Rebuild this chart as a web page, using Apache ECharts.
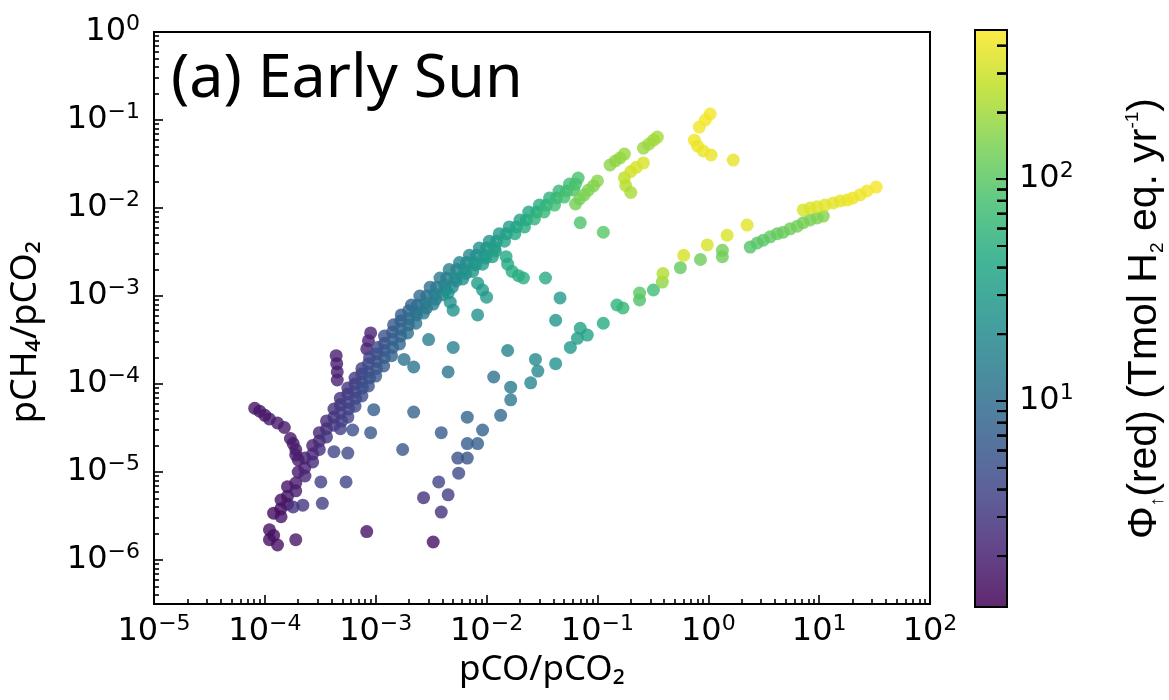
<!DOCTYPE html>
<html><head><meta charset="utf-8">
<script src="https://cdn.jsdelivr.net/npm/echarts@6/dist/echarts.min.js"></script>
<style>html,body{margin:0;padding:0;background:#fff}#c{width:1169px;height:700px}</style>
</head><body><div id="c"></div>
<script>
// ---------- tick labels (exponents of 10) ----------
const xTickExps = [-5, -4, -3, -2, -1, 0, 1, 2];
const yTickExps = [-6, -5, -4, -3, -2, -1, 0];
const cbTickExps = [1, 2];
const X_MIN = 1e-5, X_MAX = 1e2, Y_MIN = 3.16e-7, Y_MAX = 1;
const PHI_MIN = 1.18, PHI_MAX = 470;

// ---------- data: pCO/pCO2, pCH4/pCO2, Phi(red) ----------
// main ridge, upper-left edge
const ridgeLCO = [1.2e-4,1.4e-4,1.6e-4,2.0e-4,2.3e-4,2.7e-4,3.1e-4,3.6e-4,4.2e-4,4.8e-4,5.6e-4,6.5e-4,7.5e-4,8.8e-4,1.04e-3,1.2e-3,1.45e-3,1.7e-3,2.1e-3,2.5e-3,3.1e-3,3.8e-3,4.6e-3,5.7e-3,7.0e-3,8.6e-3,1.06e-2,1.3e-2,1.6e-2,2.0e-2,2.4e-2,3.0e-2,3.7e-2,4.5e-2,5.6e-2,6.7e-2];
const ridgeLCH4 = [3.4e-6,4.8e-6,6.8e-6,1.0e-5,1.44e-5,2.0e-5,2.8e-5,3.8e-5,5.2e-5,6.9e-5,9.0e-5,1.17e-4,1.5e-4,2.0e-4,2.6e-4,3.5e-4,4.7e-4,6.1e-4,7.9e-4,1.0e-3,1.26e-3,1.6e-3,2.0e-3,2.4e-3,2.9e-3,3.5e-3,4.2e-3,5.1e-3,6.1e-3,7.3e-3,9.0e-3,1.08e-2,1.3e-2,1.56e-2,1.87e-2,2.19e-2];
const ridgeLPhi = [1.4,1.5,1.6,1.8,1.9,2.0,2.2,2.4,2.6,2.8,3.0,3.3,3.6,4.0,4.5,5.2,6,7,8,9.5,11,13,15,17,19,22,25,28,32,36,41,47,54,62,70,80];
// main ridge, between edge and centre
const ridgeM1CO = [1.39e-4,1.6e-4,1.9e-4,2.29e-4,2.7e-4,3.1e-4,3.6e-4,4.2e-4,4.8e-4,5.6e-4,6.5e-4,7.5e-4,8.6e-4,1.02e-3,1.2e-3,1.42e-3,1.68e-3,1.98e-3,2.39e-3,2.88e-3,3.55e-3,4.36e-3,5.37e-3,6.6e-3,8.1e-3,1.0e-2,1.23e-2,1.51e-2,1.86e-2,2.29e-2,2.82e-2,3.47e-2,4.27e-2,5.26e-2,6.34e-2];
const ridgeM1CH4 = [3.8e-6,5.3e-6,7.5e-6,1.11e-5,1.6e-5,2.25e-5,3.1e-5,4.2e-5,5.8e-5,7.7e-5,1.0e-4,1.3e-4,1.7e-4,2.19e-4,2.9e-4,3.9e-4,5.2e-4,6.8e-4,7.9e-4,1.0e-3,1.26e-3,1.6e-3,2.0e-3,2.4e-3,2.9e-3,3.5e-3,4.2e-3,5.1e-3,6.1e-3,7.3e-3,9.0e-3,1.08e-2,1.3e-2,1.56e-2,1.87e-2];
const ridgeM1Phi = [1.5,1.6,1.75,2.0,2.15,2.3,2.55,2.75,3.0,3.25,3.5,3.85,4.25,4.7,5.2,6.1,7,8.3,9.5,11,13,15,17.5,20,22.5,25.5,29,32.5,37,42,48,54,62,70,77];
// main ridge, centre
const ridgeCCO = [1.4e-4,1.6e-4,1.9e-4,2.3e-4,2.7e-4,3.1e-4,3.6e-4,4.2e-4,4.8e-4,5.6e-4,6.5e-4,7.5e-4,8.6e-4,1.02e-3,1.2e-3,1.42e-3,1.68e-3,1.98e-3,2.3e-3,2.8e-3,3.4e-3,4.2e-3,5.2e-3,6.3e-3,7.8e-3,9.6e-3,1.18e-2,1.45e-2,1.8e-2,2.2e-2,2.7e-2,3.3e-2,4.1e-2,5.0e-2,6.1e-2];
const ridgeCCH4 = [3.1e-6,4.3e-6,6.1e-6,9.0e-6,1.3e-5,1.8e-5,2.5e-5,3.4e-5,4.7e-5,6.2e-5,8.1e-5,1.05e-4,1.37e-4,1.8e-4,2.4e-4,3.2e-4,4.2e-4,5.5e-4,6.6e-4,8.3e-4,1.05e-3,1.33e-3,1.6e-3,2.0e-3,2.4e-3,2.9e-3,3.5e-3,4.2e-3,5.1e-3,6.1e-3,7.5e-3,9.0e-3,1.08e-2,1.33e-2,1.6e-2];
const ridgeCPhi = [1.6,1.7,1.9,2.2,2.4,2.6,2.9,3.1,3.4,3.7,4.0,4.4,4.9,5.4,6,7,8,9.5,11,13,15,17,20,23,26,29,33,37,42,48,55,62,70,78,85];
// main ridge, between centre and lower-right edge
const ridgeM2CO = [4.94e-4,5.7e-4,6.6e-4,7.6e-4,8.8e-4,1.02e-3,1.2e-3,1.42e-3,1.68e-3,1.98e-3,2.34e-3,2.88e-3,3.47e-3,4.27e-3,5.3e-3,6.5e-3,7.96e-3,9.8e-3,1.2e-2];
const ridgeM2CH4 = [3.8e-5,5.2e-5,6.9e-5,9.0e-5,1.17e-4,1.5e-4,2.0e-4,2.6e-4,3.5e-4,4.7e-4,6.1e-4,7.3e-4,9.2e-4,1.17e-3,1.48e-3,1.8e-3,2.25e-3,2.7e-3,3.25e-3];
const ridgeM2Phi = [3.4,3.7,4.0,4.4,4.9,5.4,6,7,8,9,10.5,12,14,16,18.5,21.5,25,28,31];
// main ridge, lower-right edge
const ridgeRCO = [4.8e-4,5.6e-4,6.5e-4,7.5e-4,8.6e-4,1.0e-3,1.18e-3,1.39e-3,1.64e-3,1.94e-3,2.3e-3,2.7e-3,3.3e-3,4.0e-3,4.9e-3,6.1e-3,7.5e-3,9.2e-3,1.13e-2];
const ridgeRCH4 = [3.1e-5,4.2e-5,5.6e-5,7.3e-5,9.5e-5,1.23e-4,1.6e-4,2.1e-4,2.85e-4,3.8e-4,4.9e-4,6.4e-4,8.1e-4,1.03e-3,1.26e-3,1.56e-3,1.9e-3,2.3e-3,2.8e-3];
const ridgeRPhi = [3.6,3.9,4.2,4.6,5.2,5.8,6.5,7.5,8.5,10,11.5,13,15,17,20,23,27,30,34];
// purple streaks left of the ridge
const purpleCO = [8.1e-5,9.0e-5,1.0e-4,1.1e-4,1.3e-4,1.5e-4, 1.7e-4,1.8e-4,1.9e-4,1.9e-4,2.0e-4, 4.4e-4,4.45e-4,4.5e-4,4.5e-4, 9.0e-4,8.6e-4,8.3e-4, 1.1e-4,1.2e-4,1.1e-4,1.3e-4,1.9e-4];
const purpleCH4 = [5.3e-5,4.9e-5,4.4e-5,4.0e-5,3.6e-5,3.2e-5, 2.4e-5,2.1e-5,1.8e-5,1.56e-5,1.37e-5, 2.1e-4,1.7e-4,1.37e-4,1.11e-4, 3.8e-4,3.1e-4,2.5e-4, 2.2e-6,1.9e-6,1.7e-6,1.48e-6,1.7e-6];
const purplePhi = [1.6,1.6,1.7,1.7,1.8,1.8, 1.7,1.7,1.8,1.8,1.9, 1.9,1.9,1.9,2.0, 2.1,2.1,2.1, 1.5,1.5,1.5,1.5,1.7];
// short teal/green streaks hanging below the ridge
const hookCO = [4.5e-3,4.7e-3,5.0e-3, 8.3e-3,9.2e-3,1.0e-2, 1.5e-2,1.55e-2,1.7e-2,1.94e-2,2.15e-2];
const hookCH4 = [1.08e-3,8.5e-4,6.9e-4, 1.4e-3,1.17e-3,9.7e-4, 2.8e-3,2.3e-3,1.9e-3,1.7e-3,1.6e-3];
const hookPhi = [24,24,24, 30,30,30, 42,44,46,48,50];
// scattered points and lower branch
const dotCO = [2.2e-3,5.0e-3,8.3e-3,3.0e-3,1.8e-3,2.2e-3,4.5e-3,9.6e-4,9.0e-4,1.75e-3,5.6e-4,4.2e-4,6.2e-4,5.4e-4,3.2e-4,3.3e-4,2.2e-4,1.8e-4,3.9e-3,9.2e-3,6.7e-3,6.7e-3,8.3e-3,5.5e-3,6.7e-3,5.6e-3,3.7e-3,4.5e-3,3.9e-3,2.7e-3,3.3e-3,8.3e-4,1.34e-2,1.16e-2,1.65e-2,1.65e-2,1.55e-2,2.5e-2,2.76e-2,2.9e-2,4.2e-2,5.7e-2,6.6e-2,7.0e-2,8.1e-2,1.13e-1,1.5e-1,1.7e-1,2.4e-1,2.4e-1,3.2e-1,3.9e-1,3.85e-1,5.6e-1,6.0e-1,8.5e-1,9.8e-1,1.34,1.34,1.48,2.24,4.6e-2,4.2e-2,3.4e-2,7.0e-2,1.13e-1];
const dotCH4 = [4.8e-5,2.6e-4,6.1e-4,3.2e-4,1.9e-4,1.56e-4,1.37e-4,5.1e-5,2.8e-5,1.8e-5,1.64e-5,1.7e-5,3.0e-5,7.7e-6,7.7e-6,4.4e-6,4.2e-6,4.0e-6,2.8e-5,3.0e-5,4.2e-5,2.1e-5,2.1e-5,1.44e-5,1.44e-5,9.7e-6,7.7e-6,5.5e-6,3.5e-6,5.1e-6,1.6e-6,2.1e-6,4.4e-5,1.2e-4,9.2e-5,6.6e-5,2.4e-4,1.03e-4,1.9e-4,1.4e-4,1.7e-4,2.6e-4,3.3e-4,4.3e-4,3.6e-4,4.9e-4,7.9e-4,7.3e-4,1.08e-3,9.0e-4,1.17e-3,1.8e-3,1.44e-3,2.1e-3,2.9e-3,2.6e-3,3.8e-3,3.3e-3,2.8e-3,4.9e-3,6.4e-3,9.5e-4,5.3e-4,1.6e-3,6.8e-3,5.3e-3];
const dotPhi = [8,16,24,15,11,12,12,7,6,6,4.5,4,5,4,3.5,3.5,3,2.8,6.5,7.5,8,6.5,7,5,5.5,4.5,4,3.5,2.8,2.8,1.5,1.6,9,11,14,13,17,18,20,19,24,28,33,35,38,45,55,60,100,85,70,230,170,110,320,120,330,130,120,340,360,30,26,45,85,95];
// upper green / yellow streaks
const upperCO = [6.34e-2,6.9e-2,7.6e-2,8.3e-2,9.2e-2,1.0e-1, 1.3e-1,1.45e-1,1.6e-1,1.75e-1, 2.6e-1,2.9e-1,3.2e-1,3.47e-1, 2.6e-1,2.24e-1,2.0e-1,1.75e-1,1.8e-1,2.0e-1, 1.04,0.94,0.83,0.75,0.80,0.90,1.06,1.68];
const upperCH4 = [1.11e-2,1.27e-2,1.41e-2,1.6e-2,1.78e-2,2.03e-2, 3.08e-2,3.42e-2,3.7e-2,4.1e-2, 4.8e-2,5.3e-2,5.9e-2,6.4e-2, 3.25e-2,2.9e-2,2.6e-2,2.2e-2,1.8e-2,1.5e-2, 0.117,0.100,0.083,0.059,0.0507,0.0444,0.040,0.035];
const upperPhi = [130,135,140,145,150,155, 165,170,175,180, 185,190,195,200, 330,320,300,260,230,210, 430,430,420,410,400,400,390,380];
// right-hand tail (green and yellow)
const tailCO = [2.39,2.76,3.13,3.62,4.19,4.74,5.48,6.34,7.18,8.30,9.59,10.9, 7.18,8.30,9.59,11.3,13.4,15.5,17.9,20.2,23.4,27.0,32.7];
const tailCH4 = [3.6e-3,4.0e-3,4.3e-3,4.7e-3,5.1e-3,5.3e-3,5.8e-3,6.2e-3,6.8e-3,7.3e-3,7.7e-3,8.1e-3, 9.5e-3,1.0e-2,1.03e-2,1.08e-2,1.14e-2,1.2e-2,1.23e-2,1.3e-2,1.41e-2,1.56e-2,1.73e-2];
const tailPhi = [90,95,100,105,110,115,120,125,130,135,140,150, 330,340,350,360,370,380,390,400,410,420,440];

const VIRIDIS = ['#440154','#482475','#414487','#355f8d','#2a788e','#21918c','#22a884','#44bf70','#7ad151','#bddf26','#fde725'];

// ---------- build ----------
const L = Math.log10;
const groups = [
  [ridgeLCO, ridgeLCH4, ridgeLPhi], [ridgeM1CO, ridgeM1CH4, ridgeM1Phi], [ridgeCCO, ridgeCCH4, ridgeCPhi],
  [ridgeM2CO, ridgeM2CH4, ridgeM2Phi], [ridgeRCO, ridgeRCH4, ridgeRPhi],
  [purpleCO, purpleCH4, purplePhi], [hookCO, hookCH4, hookPhi], [dotCO, dotCH4, dotPhi],
  [upperCO, upperCH4, upperPhi], [tailCO, tailCH4, tailPhi]
];
const pts = [];
groups.forEach(([a, b, c]) => a.forEach((v, i) => pts.push([L(v), L(b[i]), L(c[i])])));
pts.sort((p, q) => p[2] - q[2]);

function minorTicks(lo, hi) {
  const out = [];
  for (let n = Math.floor(lo) - 1; n <= Math.ceil(hi); n++)
    for (let k = 2; k <= 9; k++) { const v = n + L(k); if (v > lo + 1e-9 && v < hi - 1e-9) out.push(v); }
  return out;
}
const supFmt = v => { const e = Math.round(v); return '{b|10}{s|' + (e < 0 ? '\u2212' + (-e) : e) + '}'; };
const tickRich = {
  b: { fontFamily: 'DejaVu Sans', fontSize: 32, lineHeight: 38, color: '#000' },
  s: { fontFamily: 'DejaVu Sans', fontSize: 22, lineHeight: 22, color: '#000', verticalAlign: 'top' }
};
const cbMin = L(PHI_MIN), cbMax = L(PHI_MAX);
const cbMinor = minorTicks(cbMin, cbMax);
const cbTicks = cbTickExps.map(v => [v, 11]).concat(cbMinor.map(v => [v, 10]));
const xr = [L(X_MIN), L(X_MAX)], yr = [L(Y_MIN), L(Y_MAX)];
const tickLine = { color: '#000', width: 1.6 };
const noLine = { show: false, onZero: false };
const gradStops = VIRIDIS.map((c, i) => ({ offset: i / (VIRIDIS.length - 1), color: c }));
const titleEl = { type: 'text', id: 'title', x: 171, y: 80, z: 20,
  style: { text: '(a) Early Sun', fontFamily: 'Noto Sans', fontSize: 61, fill: '#000', align: 'left', verticalAlign: 'middle' } };

const chart = echarts.init(document.getElementById('c'), null, { renderer: 'canvas' });
chart.setOption({
  animation: false,
  backgroundColor: '#fff',
  grid: [
    { left: 153, top: 32, width: 777, height: 572, show: true, borderColor: '#000', borderWidth: 2, backgroundColor: 'transparent' },
    { left: 975, top: 30, width: 32, height: 577, show: false }
  ],
  xAxis: [
    { type: 'value', gridIndex: 0, min: xr[0], max: xr[1], position: 'bottom', z: 10,
      axisLine: noLine, splitLine: { show: false },
      axisTick: { show: true, inside: true, length: 9, customValues: xTickExps, lineStyle: tickLine },
      axisLabel: { customValues: xTickExps, formatter: supFmt, rich: tickRich, margin: 9 },
      name: 'pCO/pCO\u2082', nameLocation: 'middle', nameGap: 49,
      nameTextStyle: { fontFamily: 'Noto Sans', fontSize: 35, color: '#000' } },
    { type: 'value', gridIndex: 0, min: xr[0], max: xr[1], position: 'bottom', z: 10,
      axisLine: noLine, splitLine: { show: false }, axisLabel: { show: false },
      axisTick: { show: true, inside: true, length: 5, customValues: minorTicks(xr[0], xr[1]), lineStyle: tickLine } },
    { type: 'value', gridIndex: 1, min: 0, max: 1, show: false, axisLine: noLine }
  ],
  yAxis: [
    { type: 'value', gridIndex: 0, min: yr[0], max: yr[1], position: 'left', z: 10,
      axisLine: noLine, splitLine: { show: false },
      axisTick: { show: true, inside: true, length: 9, customValues: yTickExps, lineStyle: tickLine },
      axisLabel: { customValues: yTickExps, formatter: supFmt, rich: tickRich, margin: 14 },
      name: 'pCH\u2084/pCO\u2082', nameLocation: 'middle', nameRotate: 90, nameGap: 110,
      nameTextStyle: { fontFamily: 'Noto Sans', fontSize: 36, color: '#000', padding: [0, 28, 0, 0] } },
    { type: 'value', gridIndex: 0, min: yr[0], max: yr[1], position: 'left', z: 10,
      axisLine: noLine, splitLine: { show: false }, axisLabel: { show: false },
      axisTick: { show: true, inside: true, length: 5, customValues: minorTicks(yr[0], yr[1]), lineStyle: tickLine } },
    { type: 'value', gridIndex: 1, min: cbMin, max: cbMax, position: 'right', zlevel: 1, z: 10,
      axisLine: noLine, splitLine: { show: false },
      axisTick: { show: true, inside: true, length: 11, customValues: cbTickExps, lineStyle: tickLine },
      axisLabel: { customValues: cbTickExps, formatter: supFmt, rich: tickRich, margin: 12 },
      name: '\u03A6{sub|\u2191}(red) (Tmol H{sub|2} eq. yr{sup|-1})', nameLocation: 'middle', nameRotate: 90, nameGap: 116,
      nameTextStyle: { fontFamily: 'Liberation Sans', fontSize: 41, color: '#000',
        rich: { sub: { fontFamily: 'Liberation Sans', fontSize: 19, verticalAlign: 'bottom', lineHeight: 44 },
                sup: { fontFamily: 'Liberation Sans', fontSize: 19, verticalAlign: 'top', lineHeight: 44 } } } },
    { type: 'value', gridIndex: 1, min: cbMin, max: cbMax, position: 'right', zlevel: 1, z: 10,
      axisLine: noLine, splitLine: { show: false }, axisLabel: { show: false },
      axisTick: { show: true, inside: true, length: 10, customValues: cbMinor, lineStyle: tickLine } }
  ],
  visualMap: [{ type: 'continuous', show: false, seriesIndex: 0, dimension: 2, min: cbMin, max: cbMax, inRange: { color: VIRIDIS } }],
  graphic: [titleEl],
  series: [
    { type: 'scatter', xAxisIndex: 0, yAxisIndex: 0, data: pts, symbolSize: 13,
      itemStyle: { opacity: 0.8 }, emphasis: { disabled: true } },
    // colour bar body (bottom layer)
    { type: 'custom', xAxisIndex: 2, yAxisIndex: 2, data: [[0.5, 1]], silent: true, zlevel: 0, z: 2,
      renderItem: (params, api) => {
        const p0 = api.coord([0, cbMin]), p1 = api.coord([1, cbMax]);
        return { type: 'rect', shape: { x: p0[0], y: p1[1], width: p1[0] - p0[0], height: p0[1] - p1[1] },
          style: { fill: new echarts.graphic.LinearGradient(0, 1, 0, 0, gradStops), fillOpacity: 0.85,
                   stroke: '#000', lineWidth: 2, strokeOpacity: 1 } };
      } },
    // colour bar ticks on an upper layer: thin black bars on the right edge, pointing inward
    { type: 'scatter', xAxisIndex: 2, yAxisIndex: 2, zlevel: 1, z: 20, silent: true, clip: false,
      symbol: 'rect', itemStyle: { color: '#000', opacity: 1 },
      data: cbTicks.map(([v, len]) => ({ value: [1, v], symbolSize: [len, 1.8], symbolOffset: [-len / 2, 0] })) }
  ]
});

// colour-bar ticks once more as graphic lines, positioned with the colour-bar axis scale
try {
  const cbRight = chart.convertToPixel({ xAxisIndex: 2 }, 1);
  const lines = cbTicks.map(([v, len], i) => {
    const y = chart.convertToPixel({ yAxisIndex: 2 }, v);
    return { type: 'line', id: 'cbtick' + i, z: 100, zlevel: 2, silent: true,
      shape: { x1: cbRight - len, y1: y, x2: cbRight, y2: y },
      style: { stroke: '#000', lineWidth: 1.8 } };
  });
  chart.setOption({ graphic: [titleEl].concat(lines) });
} catch (e) { /* keep the chart as drawn */ }
</script></body></html>
